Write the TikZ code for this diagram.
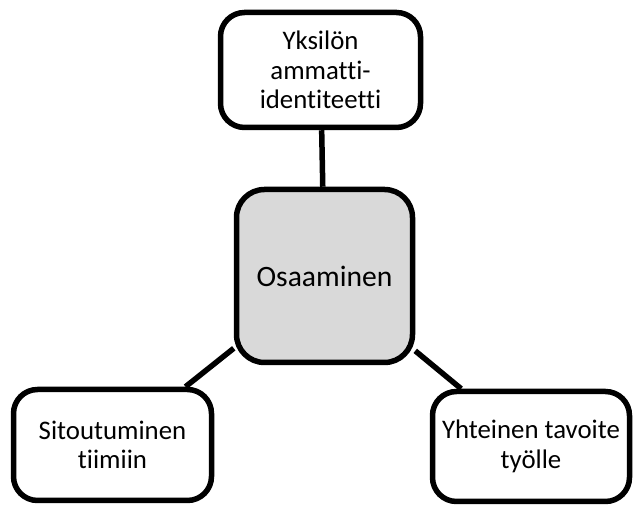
\documentclass[tikz,border=0pt]{standalone}
\usepackage{fontspec}
\setmainfont{Carlito}[Ligatures=NoCommon]
\begin{document}
\begin{tikzpicture}[x=0.5pt,y=0.5pt,
    box/.style={draw,line width=2.75pt,rounded corners=12pt,fill=white,
      align=center,inner sep=0pt,font=\fontsize{13.4}{14.8}\selectfont},
    core/.style={box,fill=black!15,rounded corners=14pt,
      font=\fontsize{14.8}{17}\selectfont}]
  \useasboundingbox (0,0) rectangle (633,507);
  \draw
    (320.5,437) node[box,minimum width=100pt,minimum height=57.5pt] (ident){Yksilön\\ammatti-\\identiteetti}
    (324.5,231) node[core,minimum width=88pt,minimum height=86.5pt] (osaam){Osaaminen}
    (112.5,62) node[box,minimum width=99pt,minimum height=55.5pt] (sitou){Sitoutuminen\\tiimiin}
    (531,60.5) node[box,minimum width=98.5pt,minimum height=55pt] (tavoi){Yhteinen tavoite\\työlle};
  \begin{scope}[line width=2.75pt]
    \draw (ident) to (osaam);
    \draw (osaam) to (sitou);
    \draw (osaam) to (tavoi);
  \end{scope}
\end{tikzpicture}
\end{document}
